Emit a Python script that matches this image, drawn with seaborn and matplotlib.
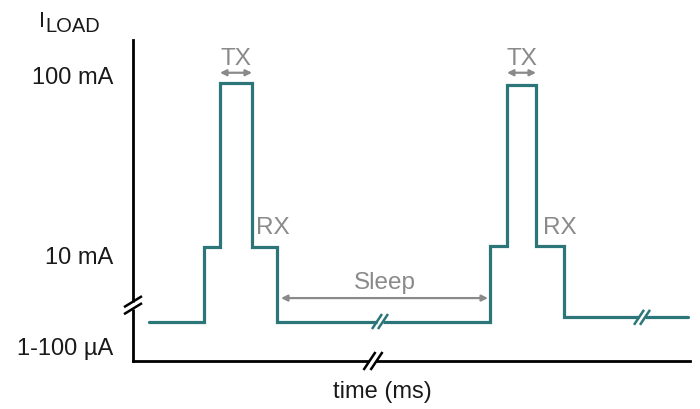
import matplotlib
matplotlib.use("Agg")
import matplotlib.pyplot as plt
import seaborn as sns

# waveform, x in time units (1 unit ~ 1 px), y in plot units (0 = axis, 100 = top)
t = [16, 71, 71, 87, 87, 119, 119, 144, 144, 357, 357, 374, 374, 403, 403, 431, 431, 555]
i_load = [12.3, 12.3, 35.5, 35.5, 86.5, 86.5, 35.5, 35.5, 12.3, 12.3, 35.8, 35.8, 86.0, 86.0, 35.8, 35.8, 13.6, 13.6]

ytick_pos = [4.5, 33.0, 88.8]
ytick_labels = ["1-100 µA", "10 mA", "100 mA"]

tx_spans = [(87, 119), (374, 403)]
rx_pos = [(140, 41.5), (427, 41.5)]
sleep_span = (148, 355)
sleep_y = 19.6

teal = "#2c7679"
grey = "#8a8a8a"

sns.set_style("white")
plt.rcParams["font.family"] = ["Liberation Sans", "DejaVu Sans"]

fig = plt.figure(figsize=(7, 4.09), dpi=100)
ax = fig.add_axes([133 / 700, 48 / 409, 557 / 700, 321 / 409])
ax.set_xlim(0, 557)
ax.set_ylim(0, 100)

sns.lineplot(x=t, y=i_load, ax=ax, color=teal, lw=2.3, sort=False,
             estimator=None, solid_joinstyle="miter")

for s in ["top", "right"]:
    ax.spines[s].set_visible(False)
for s in ["left", "bottom"]:
    ax.spines[s].set_color("black")
    ax.spines[s].set_linewidth(2.0)

ax.set_xticks([])
ax.set_yticks(ytick_pos)
ax.set_yticklabels(ytick_labels, fontsize=17, color="#1a1a1a")
ax.tick_params(axis="y", length=0, pad=14)
ax.set_ylabel("")

ax.set_xlabel("time (ms)", fontsize=17, color="#1a1a1a")
ax.xaxis.set_label_coords((382 - 133) / 557, -31 / 321)
ax.xaxis.label.set_va("center")

# I_LOAD label
fig.text(39 / 700, 1 - 27 / 409, "I", fontsize=15.5, color="#1a1a1a", va="baseline")
fig.text(45 / 700, 1 - 32 / 409, "LOAD", fontsize=14.5, color="#1a1a1a", va="baseline")

# TX arrows and labels
for a, b in tx_spans:
    ax.annotate("", xy=(a, 89.8), xytext=(b, 89.8),
                arrowprops=dict(arrowstyle="<|-|>", color=grey, lw=1.6,
                                mutation_scale=9, shrinkA=0, shrinkB=0))
    ax.text((a + b) / 2, 94.0, "TX", fontsize=17.5, color=grey, ha="center", va="center")

for x, y in rx_pos:
    ax.text(x, y, "RX", fontsize=17.5, color=grey, ha="center", va="center")

ax.annotate("", xy=(sleep_span[0], sleep_y), xytext=(sleep_span[1], sleep_y),
            arrowprops=dict(arrowstyle="<|-|>", color=grey, lw=1.6,
                            mutation_scale=9, shrinkA=0, shrinkB=0))
ax.text(sum(sleep_span) / 2, 24.2, "Sleep", fontsize=17.5, color=grey, ha="center", va="center")

# break marks (// style), sizes in px converted to data units
ypx = 321 / 100.0


def brk(x, y, dx, dy, sx, sy, color, lw, gap_w):
    # white gap
    ax.plot([x - sx / 2, x + sx / 2], [y - sy / 2 / ypx, y + sy / 2 / ypx], color="white",
            lw=gap_w, solid_capstyle="butt", zorder=4, clip_on=False)
    for k in (-0.5, 0.5):
        cx, cy = x + k * sx, y + k * sy / ypx
        ax.plot([cx - dx / 2, cx + dx / 2], [cy - dy / 2 / ypx, cy + dy / 2 / ypx],
                color=color, lw=lw, zorder=5, clip_on=False, solid_capstyle="butt")


brk(0, 17.4, 18, 11, 0, 7, "black", 1.8, 5)
brk(240, 0, 12, 18, 7, 0, "black", 1.8, 6)
brk(247, 12.3, 10, 15, 6, 0, teal, 1.8, 5)
brk(509, 13.6, 10, 15, 6, 0, teal, 1.8, 5)

fig.savefig("out.png", dpi=100)
